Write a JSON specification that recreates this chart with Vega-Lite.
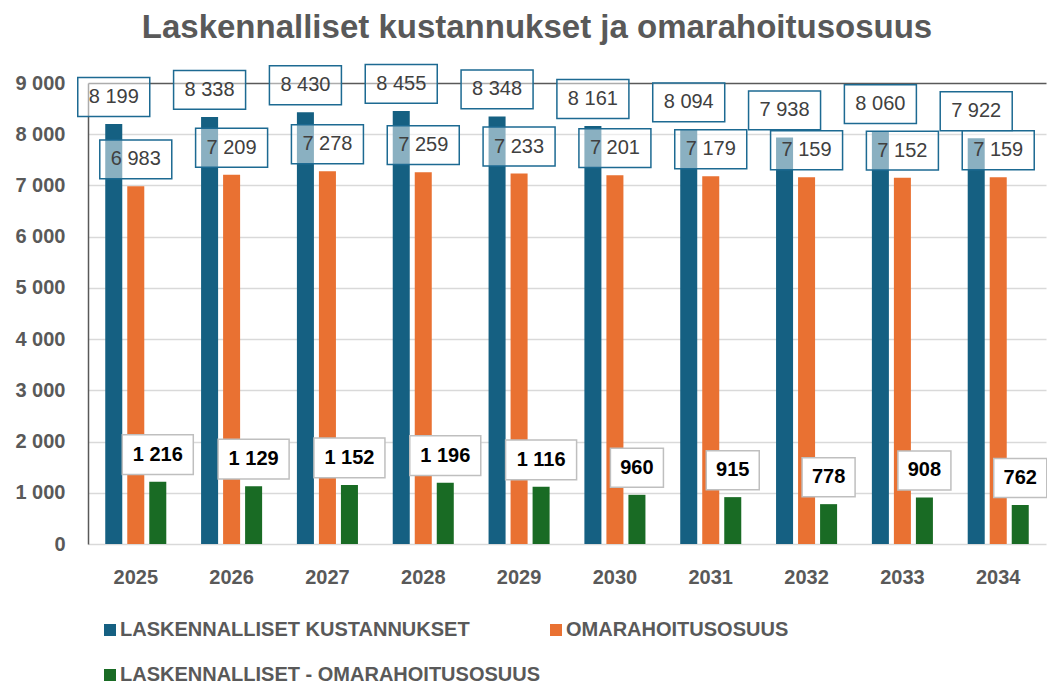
{
  "$schema": "https://vega.github.io/schema/vega-lite/v6.json",
  "width": 958,
  "height": 461,
  "autosize": {"type": "none"},
  "padding": {"left": 88, "top": 83, "right": 1, "bottom": 142},
  "background": "white",
  "title": {
    "text": "Laskennalliset kustannukset ja omarahoitusosuus",
    "font": "Liberation Sans",
    "fontSize": 33,
    "fontWeight": "bold",
    "color": "#595959",
    "anchor": "middle",
    "dx": -30,
    "offset": 16
  },
  "config": {
    "locale": {"number": {"decimal": ",", "thousands": " ", "grouping": [3], "currency": ["", " €"]}},
    "font": "Liberation Sans",
    "view": {"stroke": null}
  },
  "data": {
    "values": [
      {"vuosi": "2025", "sarja": "LASKENNALLISET KUSTANNUKSET", "arvo": 8199},
      {"vuosi": "2026", "sarja": "LASKENNALLISET KUSTANNUKSET", "arvo": 8338},
      {"vuosi": "2027", "sarja": "LASKENNALLISET KUSTANNUKSET", "arvo": 8430},
      {"vuosi": "2028", "sarja": "LASKENNALLISET KUSTANNUKSET", "arvo": 8455},
      {"vuosi": "2029", "sarja": "LASKENNALLISET KUSTANNUKSET", "arvo": 8348},
      {"vuosi": "2030", "sarja": "LASKENNALLISET KUSTANNUKSET", "arvo": 8161},
      {"vuosi": "2031", "sarja": "LASKENNALLISET KUSTANNUKSET", "arvo": 8094},
      {"vuosi": "2032", "sarja": "LASKENNALLISET KUSTANNUKSET", "arvo": 7938},
      {"vuosi": "2033", "sarja": "LASKENNALLISET KUSTANNUKSET", "arvo": 8060},
      {"vuosi": "2034", "sarja": "LASKENNALLISET KUSTANNUKSET", "arvo": 7922},
      {"vuosi": "2025", "sarja": "OMARAHOITUSOSUUS", "arvo": 6983},
      {"vuosi": "2026", "sarja": "OMARAHOITUSOSUUS", "arvo": 7209},
      {"vuosi": "2027", "sarja": "OMARAHOITUSOSUUS", "arvo": 7278},
      {"vuosi": "2028", "sarja": "OMARAHOITUSOSUUS", "arvo": 7259},
      {"vuosi": "2029", "sarja": "OMARAHOITUSOSUUS", "arvo": 7233},
      {"vuosi": "2030", "sarja": "OMARAHOITUSOSUUS", "arvo": 7201},
      {"vuosi": "2031", "sarja": "OMARAHOITUSOSUUS", "arvo": 7179},
      {"vuosi": "2032", "sarja": "OMARAHOITUSOSUUS", "arvo": 7159},
      {"vuosi": "2033", "sarja": "OMARAHOITUSOSUUS", "arvo": 7152},
      {"vuosi": "2034", "sarja": "OMARAHOITUSOSUUS", "arvo": 7159},
      {"vuosi": "2025", "sarja": "LASKENNALLISET - OMARAHOITUSOSUUS", "arvo": 1216},
      {"vuosi": "2026", "sarja": "LASKENNALLISET - OMARAHOITUSOSUUS", "arvo": 1129},
      {"vuosi": "2027", "sarja": "LASKENNALLISET - OMARAHOITUSOSUUS", "arvo": 1152},
      {"vuosi": "2028", "sarja": "LASKENNALLISET - OMARAHOITUSOSUUS", "arvo": 1196},
      {"vuosi": "2029", "sarja": "LASKENNALLISET - OMARAHOITUSOSUUS", "arvo": 1116},
      {"vuosi": "2030", "sarja": "LASKENNALLISET - OMARAHOITUSOSUUS", "arvo": 960},
      {"vuosi": "2031", "sarja": "LASKENNALLISET - OMARAHOITUSOSUUS", "arvo": 915},
      {"vuosi": "2032", "sarja": "LASKENNALLISET - OMARAHOITUSOSUUS", "arvo": 778},
      {"vuosi": "2033", "sarja": "LASKENNALLISET - OMARAHOITUSOSUUS", "arvo": 908},
      {"vuosi": "2034", "sarja": "LASKENNALLISET - OMARAHOITUSOSUUS", "arvo": 762}
    ]
  },
  "encoding": {
    "x": {
      "field": "vuosi", "type": "nominal",
      "scale": {"paddingInner": 0.363, "paddingOuter": 0.18},
      "axis": {"title": null, "labelAngle": 0, "labelFontSize": 20, "labelFontWeight": "bold", "labelColor": "#595959", "labelPadding": 23, "ticks": false, "domain": false, "grid": false}
    },
    "xOffset": {
      "field": "sarja", "type": "nominal",
      "sort": ["LASKENNALLISET KUSTANNUKSET", "OMARAHOITUSOSUUS", "LASKENNALLISET - OMARAHOITUSOSUUS"],
      "scale": {"paddingInner": 0.227, "paddingOuter": 0}
    },
    "y": {
      "field": "arvo", "type": "quantitative",
      "scale": {"domain": [0, 9000], "nice": false},
      "axis": {
        "title": null, "values": [0, 1000, 2000, 3000, 4000, 5000, 6000, 7000, 8000, 9000],
        "format": ",d", "labelFontSize": 20, "labelFontWeight": "bold", "labelColor": "#595959",
        "labelPadding": 23, "ticks": false, "tickSize": 0, "domain": true, "domainColor": "#595959", "domainWidth": 1.5,
        "grid": true, "gridWidth": 1.5,
        "gridColor": {"condition": {"test": "datum.value === 9000", "value": "#595959"}, "value": "#d9d9d9"}
      }
    }
  },
  "layer": [
    {
      "mark": {"type": "bar"},
      "encoding": {
        "color": {
          "field": "sarja", "type": "nominal",
          "scale": {"domain": ["LASKENNALLISET KUSTANNUKSET", "OMARAHOITUSOSUUS", "LASKENNALLISET - OMARAHOITUSOSUUS"], "range": ["#156082", "#e97132", "#196b24"]},
          "legend": {
            "title": null, "orient": "bottom", "columns": 2, "direction": "horizontal",
            "symbolType": "square", "symbolSize": 144, "symbolStrokeWidth": 0,
            "labelFontSize": 20, "labelFontWeight": "bold", "labelColor": "#595959", "labelLimit": 700,
            "rowPadding": 25, "columnPadding": 6, "offset": 21, "padding": 12, "labelOffset": 0
          }
        }
      }
    },
    {
      "transform": [{"filter": "datum.sarja !== 'LASKENNALLISET - OMARAHOITUSOSUUS'"}],
      "mark": {"type": "point", "shape": "M-1,-0.54H1V0.54H-1Z", "size": 5184, "filled": false, "fill": "white", "fillOpacity": 0.5, "stroke": "#1d6a92", "strokeWidth": 1.5, "opacity": 1, "yOffset": -27}
    },
    {
      "transform": [{"filter": "datum.sarja !== 'LASKENNALLISET - OMARAHOITUSOSUUS'"}],
      "mark": {"type": "text", "fontSize": 20, "color": "#404040", "dy": -27, "baseline": "middle", "align": "center"},
      "encoding": {"text": {"field": "arvo", "type": "quantitative", "format": ",d"}}
    },
    {
      "transform": [{"filter": "datum.sarja === 'LASKENNALLISET - OMARAHOITUSOSUUS' && datum.arvo >= 1000"}],
      "mark": {"type": "point", "shape": "M-1,-0.56H1V0.56H-1Z", "size": 5041, "filled": false, "fill": "white", "fillOpacity": 1, "stroke": "#bfbfbf", "strokeWidth": 1.5, "opacity": 1, "yOffset": -27}
    },
    {
      "transform": [{"filter": "datum.sarja === 'LASKENNALLISET - OMARAHOITUSOSUUS' && datum.arvo < 1000"}],
      "mark": {"type": "point", "shape": "M-1,-0.736H1V0.736H-1Z", "size": 2809, "filled": false, "fill": "white", "fillOpacity": 1, "stroke": "#bfbfbf", "strokeWidth": 1.5, "opacity": 1, "yOffset": -27}
    },
    {
      "transform": [{"filter": "datum.sarja === 'LASKENNALLISET - OMARAHOITUSOSUUS'"}],
      "mark": {"type": "text", "fontSize": 20, "fontWeight": "bold", "color": "#000000", "dy": -27, "baseline": "middle", "align": "center"},
      "encoding": {"text": {"field": "arvo", "type": "quantitative", "format": ",d"}}
    }
  ]
}
